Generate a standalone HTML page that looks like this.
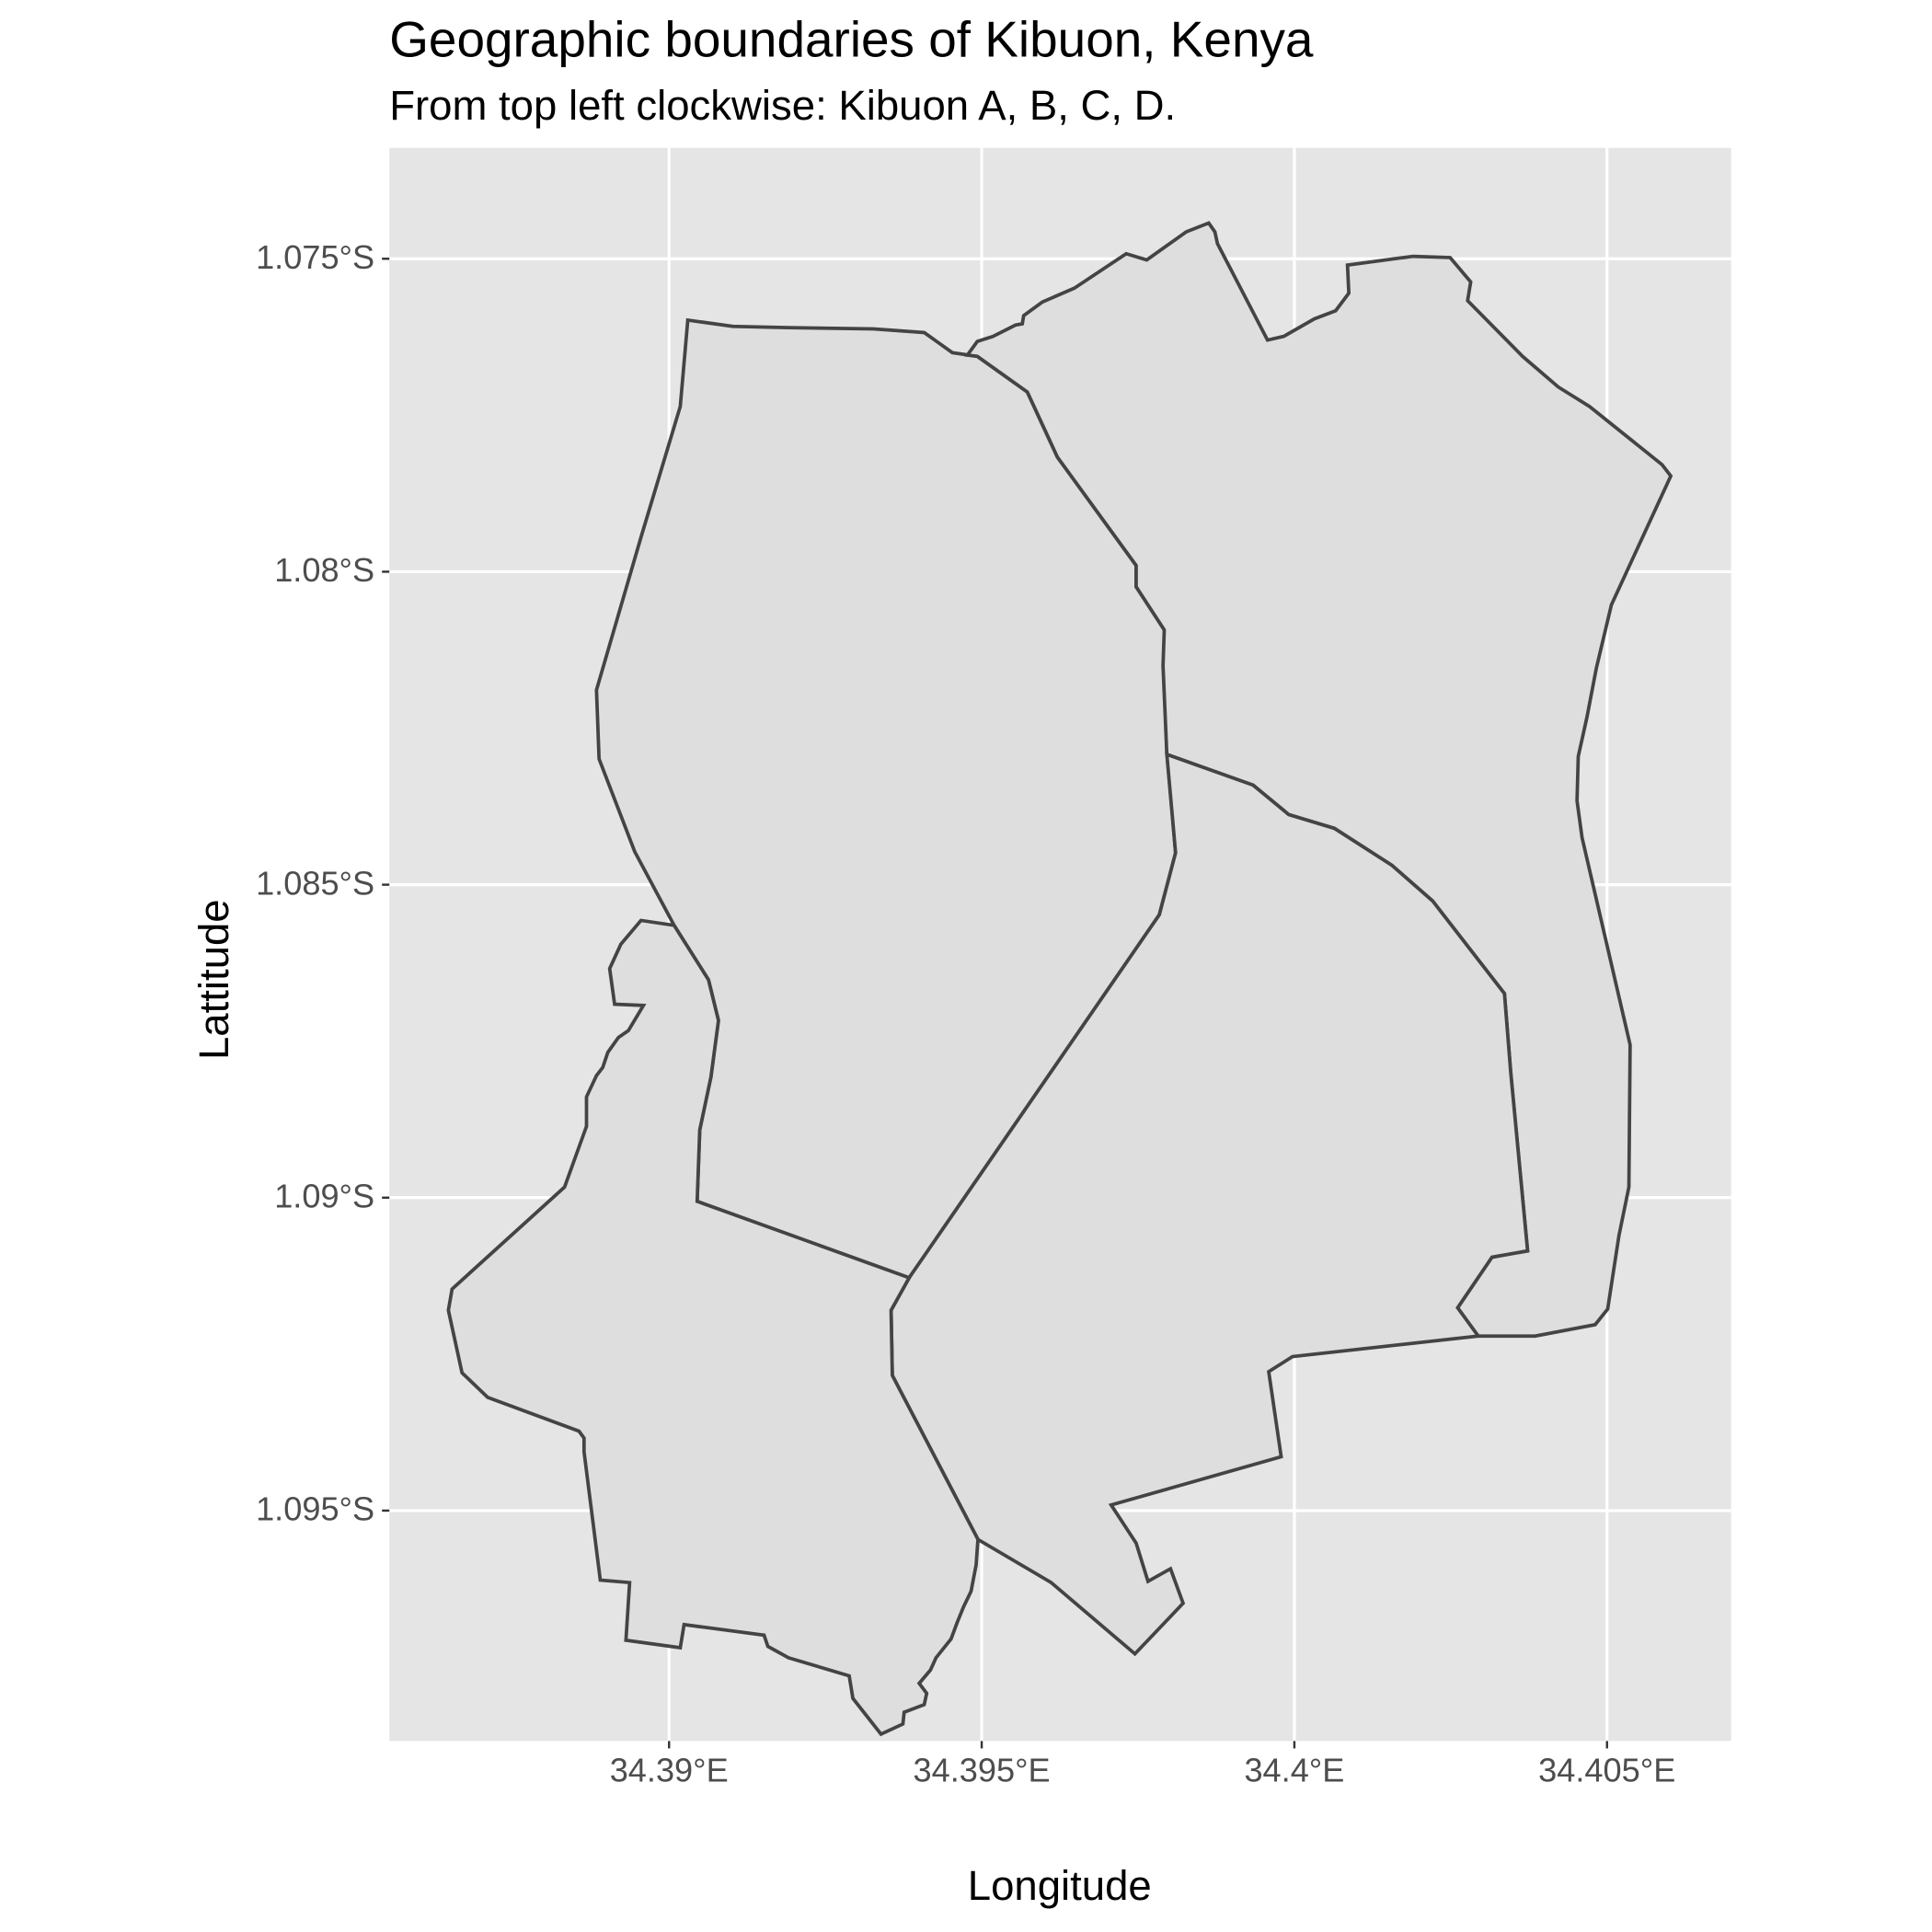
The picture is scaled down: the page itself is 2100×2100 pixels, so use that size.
<!DOCTYPE html>
<html><head><meta charset="utf-8"><style>
html,body{margin:0;padding:0;background:#fff;}
svg{display:block;font-family:"Liberation Sans",Arial,sans-serif;}
</style></head><body>
<svg id="chart" width="2100" height="2100" viewBox="0 0 1568 1568" xmlns="http://www.w3.org/2000/svg">
<rect x="0" y="0" width="1568" height="1568" fill="#ffffff"/>
<text x="316" y="46" style="font-size:41px" fill="#000">Geographic boundaries of Kibuon, Kenya</text>
<text x="316" y="97" style="font-size:34px" fill="#000">From top left clockwise: Kibuon A, B, C, D.</text>
<rect x="316" y="120" width="1089" height="1293" fill="#e5e5e5"/>
<g id="grid"></g>
<g id="regions"></g>
<g id="axes"></g>
<text x="860" y="1542" style="font-size:34px" text-anchor="middle" fill="#000">Longitude</text>
<text x="185" y="795" style="font-size:34px" text-anchor="middle" fill="#000" transform="rotate(-90 185 795)">Lattitude</text>
</svg>
<script>
const xTicks = [34.39, 34.395, 34.4, 34.405];
const xTickLabels = ["34.39°E", "34.395°E", "34.4°E", "34.405°E"];
const yTicks = [1.075, 1.08, 1.085, 1.09, 1.095];
const yTickLabels = ["1.075°S", "1.08°S", "1.085°S", "1.09°S", "1.095°S"];
const regionNames = ["Kibuon A", "Kibuon B", "Kibuon C", "Kibuon D"];
const kibuonA = [[34.39030,1.07598],[34.39102,1.07608],[34.39191,1.07610],[34.39327,1.07612],[34.39408,1.07618],[34.39453,1.07650],[34.39493,1.07656],[34.39573,1.07713],[34.39621,1.07817],[34.39747,1.07990],[34.39747,1.08024],[34.39792,1.08093],[34.39794,1.08189],[34.39796,1.08288],[34.39810,1.08449],[34.39784,1.08548],[34.39384,1.09128],[34.39045,1.09006],[34.39049,1.08892],[34.39067,1.08807],[34.39079,1.08717],[34.39063,1.08652],[34.39008,1.08565],[34.38945,1.08447],[34.38888,1.08299],[34.38884,1.08189],[34.38955,1.07945],[34.39018,1.07736]];
const kibuonB = [[34.39477,1.07654],[34.39493,1.07632],[34.39518,1.07624],[34.39554,1.07606],[34.39565,1.07604],[34.39567,1.07591],[34.39597,1.07569],[34.39648,1.07547],[34.39731,1.07492],[34.39764,1.07502],[34.39827,1.07457],[34.39863,1.07443],[34.39873,1.07457],[34.39877,1.07476],[34.39957,1.07630],[34.39983,1.07624],[34.40032,1.07596],[34.40066,1.07583],[34.40087,1.07555],[34.40085,1.07510],[34.40190,1.07496],[34.40249,1.07498],[34.40282,1.07537],[34.40277,1.07567],[34.40365,1.07656],[34.40422,1.07705],[34.40472,1.07736],[34.40588,1.07829],[34.40602,1.07847],[34.40507,1.08053],[34.40483,1.08154],[34.40468,1.08232],[34.40454,1.08295],[34.40452,1.08366],[34.40460,1.08425],[34.40537,1.08756],[34.40535,1.08983],[34.40519,1.09061],[34.40501,1.09178],[34.40481,1.09203],[34.40385,1.09221],[34.40294,1.09221],[34.40261,1.09176],[34.40316,1.09095],[34.40373,1.09085],[34.40346,1.08800],[34.40336,1.08674],[34.40221,1.08526],[34.40156,1.08469],[34.40064,1.08410],[34.39991,1.08388],[34.39934,1.08341],[34.39796,1.08292],[34.39790,1.08150],[34.39792,1.08093],[34.39747,1.08024],[34.39747,1.07990],[34.39621,1.07817],[34.39573,1.07713],[34.39493,1.07656]];
const kibuonC = [[34.39796,1.08292],[34.39934,1.08341],[34.39991,1.08388],[34.40064,1.08410],[34.40156,1.08469],[34.40221,1.08526],[34.40336,1.08674],[34.40346,1.08800],[34.40373,1.09085],[34.40316,1.09095],[34.40261,1.09176],[34.40294,1.09221],[34.39997,1.09254],[34.39959,1.09278],[34.39979,1.09414],[34.39707,1.09491],[34.39747,1.09552],[34.39766,1.09613],[34.39802,1.09593],[34.39822,1.09648],[34.39745,1.09729],[34.39611,1.09615],[34.39494,1.09546],[34.39357,1.09284],[34.39355,1.09180],[34.39384,1.09128],[34.39784,1.08548],[34.39810,1.08449]];
const kibuonD = [[34.39008,1.08565],[34.38955,1.08557],[34.38923,1.08595],[34.38905,1.08634],[34.38913,1.08691],[34.38959,1.08693],[34.38935,1.08733],[34.38919,1.08744],[34.38902,1.08768],[34.38894,1.08792],[34.38884,1.08805],[34.38868,1.08839],[34.38868,1.08886],[34.38833,1.08983],[34.38653,1.09146],[34.38647,1.09180],[34.38669,1.09280],[34.38710,1.09319],[34.38856,1.09373],[34.38864,1.09384],[34.38864,1.09406],[34.38890,1.09611],[34.38937,1.09615],[34.38931,1.09707],[34.39018,1.09719],[34.39024,1.09682],[34.39152,1.09699],[34.39158,1.09717],[34.39191,1.09735],[34.39288,1.09764],[34.39294,1.09800],[34.39339,1.09857],[34.39374,1.09841],[34.39376,1.09822],[34.39408,1.09810],[34.39412,1.09792],[34.39400,1.09776],[34.39418,1.09755],[34.39427,1.09735],[34.39451,1.09705],[34.39461,1.09678],[34.39471,1.09654],[34.39483,1.09629],[34.39491,1.09587],[34.39494,1.09546],[34.39357,1.09284],[34.39355,1.09180],[34.39384,1.09128],[34.39045,1.09006],[34.39049,1.08892],[34.39067,1.08807],[34.39079,1.08717],[34.39063,1.08652]];
const regions = [kibuonA, kibuonB, kibuonC, kibuonD];

const NS = "http://www.w3.org/2000/svg";
const PX = {x0:316, x1:1405, y0:120, y1:1413};
function xScale(lon){ return 543 + (lon - 34.39) * 50750; }
function yScale(lat){ return 210 + (lat - 1.075) * 50800; }

const grid = document.getElementById('grid');
xTicks.forEach((t,i)=>{
  const l = document.createElementNS(NS,'line');
  l.setAttribute('x1', xScale(t)); l.setAttribute('x2', xScale(t));
  l.setAttribute('y1', PX.y0); l.setAttribute('y2', PX.y1);
  l.setAttribute('stroke','#ffffff'); l.setAttribute('stroke-width','2.4');
  
  
  grid.appendChild(l);
});
yTicks.forEach((t,i)=>{
  const l = document.createElementNS(NS,'line');
  l.setAttribute('x1', PX.x0); l.setAttribute('x2', PX.x1);
  l.setAttribute('y1', yScale(t)); l.setAttribute('y2', yScale(t));
  l.setAttribute('stroke','#ffffff'); l.setAttribute('stroke-width','2.4');
  
  
  grid.appendChild(l);
});

const rg = document.getElementById('regions');
regions.forEach((poly,i)=>{
  const p = document.createElementNS(NS,'polygon');
  p.setAttribute('points', poly.map(d=>xScale(d[0]).toFixed(1)+','+yScale(d[1]).toFixed(1)).join(' '));
  p.setAttribute('fill','#dedede'); p.setAttribute('stroke','#444444');
  p.setAttribute('stroke-width','2.8'); p.setAttribute('stroke-linejoin','miter');
  
  
  rg.appendChild(p);
});

const ax = document.getElementById('axes');
xTicks.forEach((t,i)=>{
  const x = xScale(t);
  const tk = document.createElementNS(NS,'line');
  tk.setAttribute('x1',x); tk.setAttribute('x2',x); tk.setAttribute('y1',PX.y1); tk.setAttribute('y2',PX.y1+6);
  tk.setAttribute('stroke','#333'); tk.setAttribute('stroke-width','1.8');
  
  
  ax.appendChild(tk);
  const tx = document.createElementNS(NS,'text');
  tx.setAttribute('x',x); tx.setAttribute('y',PX.y1+33);
  tx.setAttribute('text-anchor','middle'); tx.setAttribute('style','font-size:27px'); tx.setAttribute('fill','#4d4d4d');
  tx.textContent = xTickLabels[i];
  
  
  ax.appendChild(tx);
});
yTicks.forEach((t,i)=>{
  const y = yScale(t);
  const tk = document.createElementNS(NS,'line');
  tk.setAttribute('x1',PX.x0-6); tk.setAttribute('x2',PX.x0); tk.setAttribute('y1',y); tk.setAttribute('y2',y);
  tk.setAttribute('stroke','#333'); tk.setAttribute('stroke-width','1.8');
  
  
  ax.appendChild(tk);
  const tx = document.createElementNS(NS,'text');
  tx.setAttribute('x',PX.x0-12); tx.setAttribute('y',y+8);
  tx.setAttribute('text-anchor','end'); tx.setAttribute('style','font-size:27px'); tx.setAttribute('fill','#4d4d4d');
  tx.textContent = yTickLabels[i];
  
  
  ax.appendChild(tx);
});
</script>
</body></html>
